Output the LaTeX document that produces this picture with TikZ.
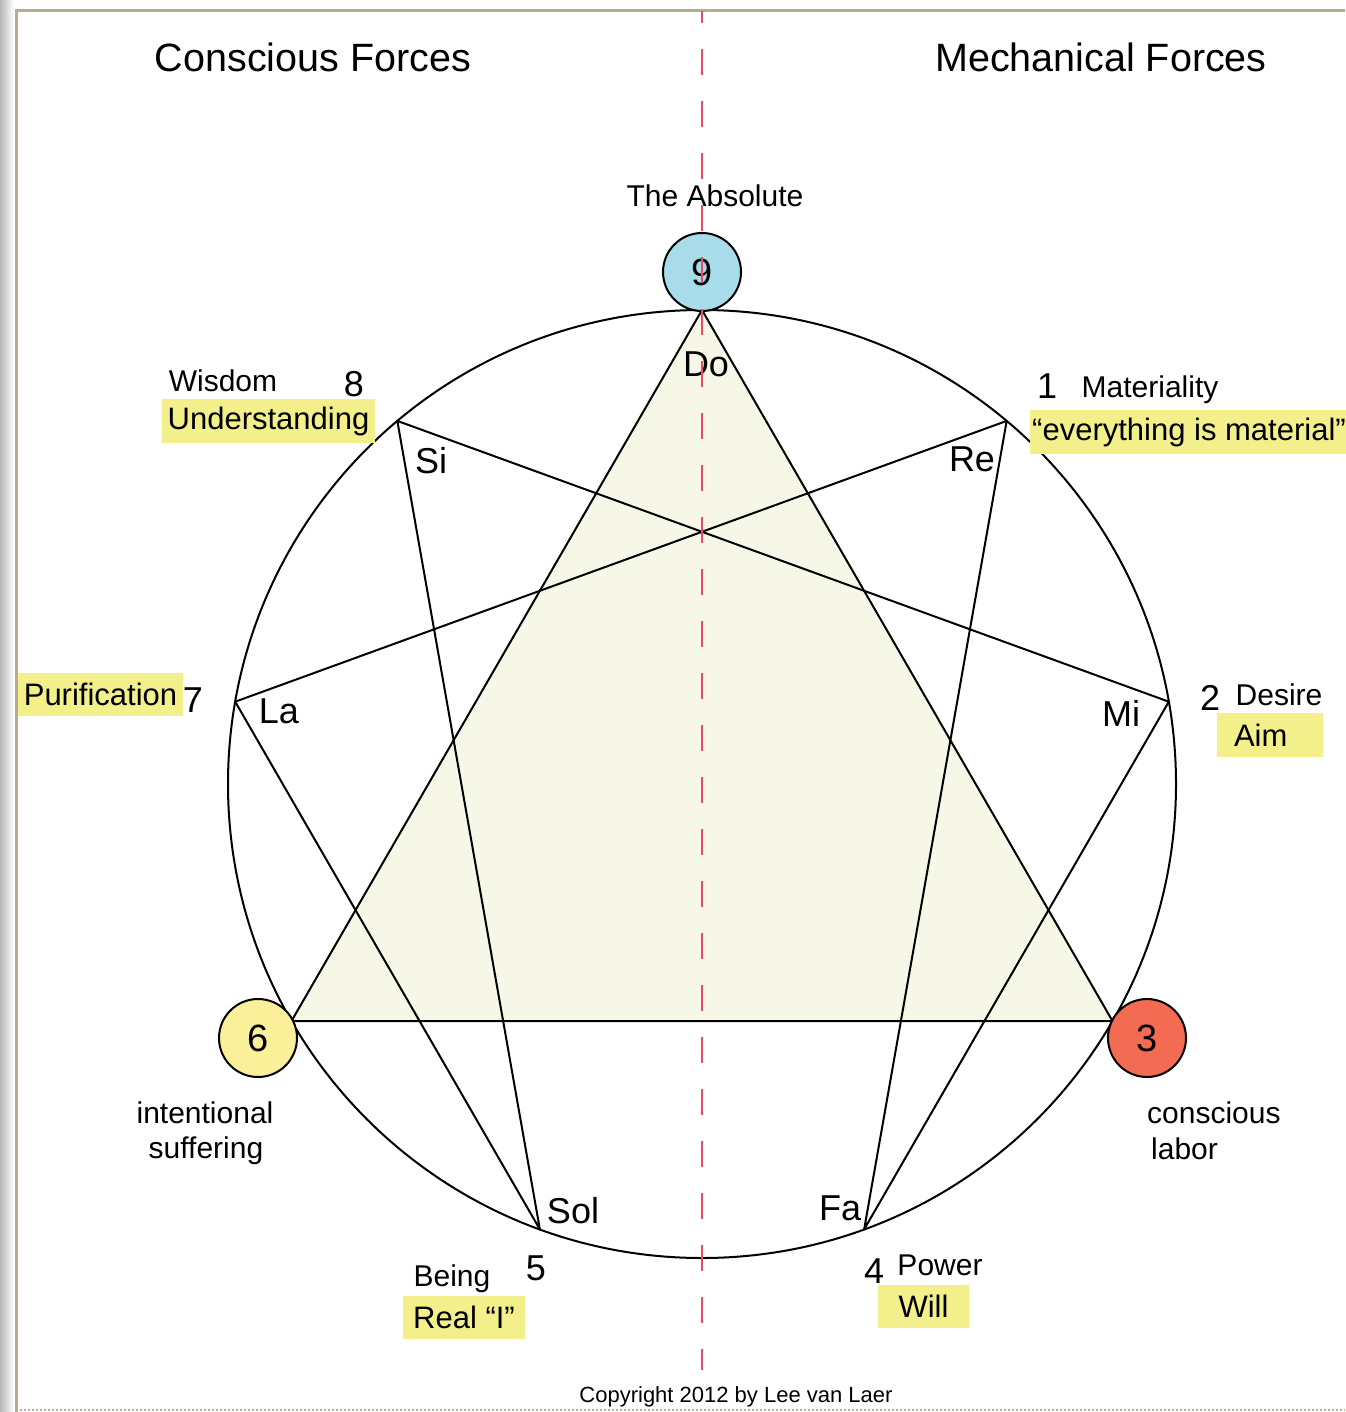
\documentclass[tikz,border=0pt]{standalone}
\usepackage{fontspec}
\usetikzlibrary{calc}
\setmainfont{Liberation Sans}
\definecolor{trifill}{RGB}{246,247,230}
\definecolor{hilite}{RGB}{243,239,138}
\definecolor{ninecol}{RGB}{168,220,234}
\definecolor{sixcol}{RGB}{251,240,154}
\definecolor{threecol}{RGB}{242,107,82}
\definecolor{dashred}{RGB}{232,74,106}
\definecolor{bordertan}{RGB}{184,172,142}
\newcommand{\fsz}[1]{\fontsize{#1}{#1}\selectfont}
\tikzset{
  figline/.style={line width=2pt, black, line join=round},
  smallcirc/.style={circle, draw=black, line width=2pt, minimum size=78pt, inner sep=0pt, font=\fsz{38}},
  notelabel/.style={inner sep=0pt, font=\fsz{36}},
  wordlabel/.style={inner sep=0pt, font=\fsz{30}},
  titlelabel/.style={inner sep=0pt, font=\fsz{39.5}},
  hibox/.style={fill=hilite, inner sep=0pt, font=\fsz{31}, minimum height=44pt},
}
\begin{document}
\begin{tikzpicture}[x=1pt,y=-1pt]
\useasboundingbox (0,0) rectangle (1345,1412);
\fill[white] (0,0) rectangle (1345,1412);
% left gray strip
\shade[left color=black!28, right color=white] (0,0) rectangle (14,1412);
% border
\draw[bordertan, line width=3pt] (16,1412) -- (16,11) -- (1345,11);
\draw[bordertan, line width=2pt, dotted] (16,1410) -- (1345,1410);
% points of the enneagram
\coordinate (c) at (702,784);
\foreach \k in {0,...,8} {
  \coordinate (p\k) at ($(c)+({474*sin(40*\k)},{-474*cos(40*\k)})$);
}
% triangle
\fill[trifill] (p0) -- (p3) -- (p6) -- cycle;
\draw[figline] (p0) -- (p3) -- (p6) -- cycle;
% hexad
\draw[figline] (p1) -- (p4) -- (p2) -- (p8) -- (p5) -- (p7) -- cycle;
% circle
\draw[figline] (c) circle[radius=474];
% small circles
\node[smallcirc, fill=ninecol] (n9) at (702,272) {9};
\node[smallcirc, fill=sixcol] (n6) at (258,1038) {6};
\node[smallcirc, fill=threecol] (n3) at (1147,1038) {3};
% titles
\node[titlelabel] (tconsc) at (313,57) {Conscious Forces};
\node[titlelabel] (tmech) at (1101,57) {Mechanical Forces};
\node[wordlabel] (tabs) at (715,196) {The Absolute};
% note names
\node[notelabel] (ldo) at (706,364) {Do};
\node[notelabel] (lre) at (972,459) {Re};
\node[notelabel] (lmi) at (1121,713) {Mi};
\node[notelabel] (lfa) at (840,1208) {Fa};
\node[notelabel] (lsol) at (573,1211) {Sol};
\node[notelabel] (lla) at (279,711) {La};
\node[notelabel] (lsi) at (431,461) {Si};
% numbers
\node[notelabel] (d1) at (1047,386) {1};
\node[notelabel] (d2) at (1210,698) {2};
\node[notelabel] (d4) at (874,1271) {4};
\node[notelabel] (d5) at (536,1268) {5};
\node[notelabel] (d7) at (193,700) {7};
\node[notelabel] (d8) at (354,384) {8};
% words
\node[wordlabel] (wmat) at (1150,390) {Materiality};
\node[hibox, minimum width=318pt] (hmat) at (1189,432) {“everything is material”};
\node[wordlabel] (wdes) at (1279,695) {Desire};
\node[hibox, minimum width=106pt, text width=92pt, align=left] (haim) at (1270,735) {\hspace*{10pt}Aim};
\node[wordlabel] (wpow) at (940,1265) {Power};
\node[hibox, minimum width=91pt, minimum height=43pt] (hwill) at (923.5,1306.5) {Will};
\node[wordlabel] (wbeing) at (452,1279) {Being};
\node[hibox, minimum width=122pt, minimum height=43pt] (hreal) at (464,1317.5) {Real “I”};
\node[hibox, minimum width=165pt, minimum height=43pt] (hpur) at (100.5,694.5) {Purification};
\node[wordlabel] (wwis) at (223,381) {Wisdom};
\node[hibox, minimum width=213pt] (hund) at (268.5,421) {Understanding};
\node[wordlabel, anchor=base] (wint1) at (205,1123) {intentional};
\node[wordlabel, anchor=base] (wint2) at (206,1158) {suffering};
\node[wordlabel, anchor=base west] (wcon1) at (1147,1123) {conscious};
\node[wordlabel, anchor=base west] (wcon2) at (1151,1159) {labor};
\node[inner sep=0pt, font=\fsz{22}] (copy) at (736,1397) {Copyright 2012 by Lee van Laer};
% dashed axis
\coordinate (axtop) at (702,11);
\coordinate (axbot) at (702,1370);
\draw[dashred, line width=2.5pt, dash pattern=on 26pt off 26pt, dash phase=14pt] (axtop) -- (axbot);
\end{tikzpicture}
\end{document}
